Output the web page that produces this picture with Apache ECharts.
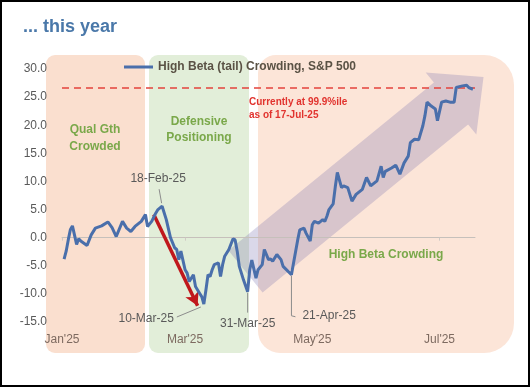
<!DOCTYPE html>
<html>
<head>
<meta charset="utf-8">
<script src="https://cdn.jsdelivr.net/npm/echarts@6/dist/echarts.min.js"></script>
<style>
html,body{margin:0;padding:0;background:#fff;}
#c{width:530px;height:387px;}
</style>
</head>
<body>
<div id="c"></div>
<script>
// ---------------- data ----------------
const dates = [
'2025-01-02','2025-01-03','2025-01-04','2025-01-05','2025-01-06','2025-01-08','2025-01-09','2025-01-10',
'2025-01-13','2025-01-15','2025-01-17','2025-01-20','2025-01-23','2025-01-25','2025-01-27','2025-01-30',
'2025-02-01','2025-02-03','2025-02-05','2025-02-08','2025-02-10','2025-02-11','2025-02-13','2025-02-15',
'2025-02-16','2025-02-18','2025-02-20','2025-02-22','2025-02-24','2025-02-25','2025-02-26','2025-02-27',
'2025-03-01','2025-03-02','2025-03-03','2025-03-05','2025-03-06','2025-03-07','2025-03-09','2025-03-10',
'2025-03-11','2025-03-12','2025-03-13','2025-03-14','2025-03-15','2025-03-17','2025-03-18','2025-03-19',
'2025-03-20','2025-03-22','2025-03-24','2025-03-25','2025-03-26','2025-03-27','2025-03-29','2025-03-31',
'2025-04-01','2025-04-02','2025-04-04','2025-04-05','2025-04-07','2025-04-08','2025-04-10','2025-04-11',
'2025-04-12','2025-04-14','2025-04-16','2025-04-17','2025-04-21','2025-04-22','2025-04-24','2025-04-25',
'2025-04-27','2025-04-28','2025-04-30','2025-05-01','2025-05-02','2025-05-04','2025-05-06','2025-05-07',
'2025-05-08','2025-05-09','2025-05-11','2025-05-12','2025-05-13','2025-05-15','2025-05-16','2025-05-18',
'2025-05-20','2025-05-22','2025-05-25','2025-05-27','2025-05-29','2025-06-01','2025-06-03','2025-06-04',
'2025-06-05','2025-06-08','2025-06-10','2025-06-12','2025-06-14','2025-06-16','2025-06-17','2025-06-19',
'2025-06-21','2025-06-23','2025-06-24','2025-06-25','2025-06-27','2025-06-29','2025-06-30','2025-07-02',
'2025-07-04','2025-07-06','2025-07-08','2025-07-09','2025-07-12','2025-07-14','2025-07-15','2025-07-17'
];
const crowding = [
-3.8,-2.4,-0.4,1.4,2.1,-1.2,-0.2,-0.6,
-1.4,0.5,1.7,2.1,2.8,1.8,0.2,2.9,
1.7,1.1,2.0,2.9,4.1,2.0,2.9,4.4,
5.0,5.6,3.2,0.0,-1.8,-2.1,-3.9,-2.4,
-5.7,-6.3,-7.8,-6.6,-8.7,-9.3,-10.5,-11.8,
-9.3,-6.6,-6.9,-5.7,-4.8,-4.5,-6.9,-4.8,
-3.3,-2.1,-0.2,-0.4,-2.4,-5.1,-7.5,-9.6,
-5.7,-4.0,-7.2,-5.7,-4.8,-2.1,-3.9,-3.8,
-4.2,-3.0,-3.9,-5.1,-6.6,-4.5,-0.4,1.4,
1.7,0.8,-0.6,2.3,2.9,2.6,3.2,2.9,
3.8,5.0,6.0,9.0,11.6,8.9,9.2,8.9,
6.5,7.7,8.6,10.7,9.2,10.1,12.7,10.7,
11.8,12.4,12.9,11.3,13.3,14.5,16.9,17.5,
17.4,19.9,21.7,24.1,23.4,22.9,20.8,24.1,
24.3,24.1,24.1,26.7,27.0,27.1,26.7,26.4
];
const seriesName = 'High Beta (tail) Crowding, S&P 500';
const xTickDates = ['2025-01-01','2025-03-01','2025-05-01','2025-07-01'];
const xTickLabels = ["Jan'25","Mar'25","May'25","Jul'25"];
const xMin = '2025-01-01', xMax = '2025-07-18';
const yMin = -15, yMax = 30, yStep = 5;
const percentileLevel = 26.7;
const redArrowFrom = ['2025-02-14', 4.1];
const redArrowTo = ['2025-03-07', -12.1];
const callouts = [
  {date:'2025-02-18', value:5.6,  text:'18-Feb-25'},
  {date:'2025-03-10', value:-11.8, text:'10-Mar-25'},
  {date:'2025-03-31', value:-9.6, text:'31-Mar-25'},
  {date:'2025-04-21', value:-6.6, text:'21-Apr-25'}
];

// ---------------- helpers ----------------
function ts(s){const p=s.split('-').map(Number);return Date.UTC(p[0],p[1]-1,p[2]);}
const NARROW = "'Liberation Sans Narrow','Arial Narrow','Liberation Sans',Arial,sans-serif";
const SANS = "'Liberation Sans',Arial,sans-serif";
const tickTs = xTickDates.map(ts);

const chart = echarts.init(document.getElementById('c'), null, {renderer:'canvas'});

const option = {
  backgroundColor:'#ffffff',
  animation:false,
  title:{text:'... this year', left:18, top:13,
    textStyle:{color:'#4a78a9', fontSize:18, fontWeight:'bold', fontFamily:SANS}},
  legend:{show:true, left:119, top:56, icon:'rect', itemWidth:29, itemHeight:3,
    data:[seriesName],
    textStyle:{color:'#5a5245', fontSize:12, fontWeight:'bold', fontFamily:NARROW}},
  grid:{left:62, right:55, top:69, bottom:65, containLabel:false},
  xAxis:[{
    type:'value', min:ts(xMin), max:ts(xMax),
    axisLine:{show:false, onZero:false}, axisTick:{show:false}, splitLine:{show:false},
    axisLabel:{show:true, customValues:tickTs, margin:12, showMinLabel:true, showMaxLabel:true,
      color:'#7d6a60', fontSize:12, fontFamily:NARROW,
      formatter:function(v){const i=tickTs.indexOf(v);return i>=0?xTickLabels[i]:'';}}
  },{
    type:'value', min:ts(xMin), max:ts(xMax), position:'bottom',
    axisLine:{show:true, onZero:true, lineStyle:{color:'#c6c0bb', width:1}},
    axisTick:{show:true, customValues:tickTs, length:3, lineStyle:{color:'#d0cac5'}},
    axisLabel:{show:false}, splitLine:{show:false}
  }],
  yAxis:{type:'value', min:yMin, max:yMax, interval:yStep,
    axisLine:{show:false}, axisTick:{show:false}, splitLine:{show:false},
    axisLabel:{margin:15, color:'#595959', fontSize:12, fontFamily:NARROW,
      formatter:function(v){return v.toFixed(1);}}},
  series:[{
    name:seriesName, type:'line', xAxisIndex:0,
    data:dates.map(function(d,i){return [ts(d), crowding[i]];}),
    showSymbol:false, symbol:'none',
    lineStyle:{color:'#4a6fab', width:3},
    itemStyle:{color:'#4a6fab'},
    z:5,
    markLine:{silent:true, symbol:['none','none'], label:{show:false},
      data:[
        {yAxis:percentileLevel, lineStyle:{color:'#e3433c', type:[7,5], width:1.5}},
        [
          {coord:[ts(redArrowFrom[0]), redArrowFrom[1]], symbol:'none', lineStyle:{color:'#c0181c', width:3.5, type:'solid'}},
          {coord:[ts(redArrowTo[0]), redArrowTo[1]], symbol:'arrow', symbolSize:[11,13]}
        ]
      ]}
  }]
};
chart.setOption(option);

// ---------------- decorations ----------------
function px(d,v){return chart.convertToPixel({xAxisIndex:0,yAxisIndex:0},[ts(d),v]);}
const g = [];
g.push({type:'rect', z:-20, silent:true, shape:{x:46,y:55,width:99,height:298,r:9}, style:{fill:'#fadfcf'}});
g.push({type:'rect', z:-20, silent:true, shape:{x:149,y:55,width:100,height:298,r:9}, style:{fill:'#e2eed9'}});
g.push({type:'rect', z:-20, silent:true, shape:{x:258,y:55,width:256,height:298,r:[18,30,30,22]}, style:{fill:'#fce5d8'}});
(function(){
  const T=[245.5,271.5], B=[451,103.5];
  const dx=B[0]-T[0], dy=B[1]-T[1], len=Math.hypot(dx,dy);
  const u=[dx/len,dy/len], n=[-u[1],u[0]];
  const hw=27, HW=40, L=42;
  const pt=(o,a,b)=>[o[0]+a*u[0]+b*n[0], o[1]+a*u[1]+b*n[1]];
  const pts=[pt(T,0,hw),pt(B,0,hw),pt(B,0,HW),pt(B,L,0),pt(B,0,-HW),pt(B,0,-hw),pt(T,0,-hw)];
  g.push({type:'polygon', z:-10, silent:true, shape:{points:pts}, style:{fill:'rgba(120,110,175,0.27)'}});
})();
const greenTxt = {fill:'#7aa84a', font:"bold 12px "+NARROW, align:'center', verticalAlign:'middle'};
g.push({type:'text', z:1, style:Object.assign({x:95,y:138,text:'Qual Gth\nCrowded',lineHeight:17},greenTxt)});
g.push({type:'text', z:1, style:Object.assign({x:199,y:130,text:'Defensive\nPositioning',lineHeight:16},greenTxt)});
g.push({type:'text', z:1, style:Object.assign({x:386,y:255,text:'High Beta Crowding'},greenTxt)});
g.push({type:'text', z:1, style:{x:249,y:109,text:'Currently at 99.9%ile\nas of 17-Jul-25', lineHeight:13,
  fill:'#e1332e', font:"bold 10px "+NARROW, align:'left', verticalAlign:'middle'}});
const lblStyle = {fill:'#595959', font:"12px "+NARROW, verticalAlign:'middle'};
const leader = {stroke:'#8c8c8c', lineWidth:1, fill:null};
(function(){
  let p = px(callouts[0].date, callouts[0].value);
  g.push({type:'polyline', z:1, shape:{points:[[p[0]-3,p[1]-17],[p[0]-0.5,p[1]-3]]}, style:leader});
  g.push({type:'text', z:1, style:Object.assign({x:p[0]-4,y:p[1]-27,text:callouts[0].text,align:'center'},lblStyle)});
  p = px(callouts[1].date, callouts[1].value);
  g.push({type:'polyline', z:1, shape:{points:[[p[0]-27,p[1]+13],[p[0]-3,p[1]+3]]}, style:leader});
  g.push({type:'text', z:1, style:Object.assign({x:p[0]-30,y:p[1]+15,text:callouts[1].text,align:'right'},lblStyle)});
  p = px(callouts[2].date, callouts[2].value);
  g.push({type:'polyline', z:1, shape:{points:[[p[0],p[1]+1],[p[0],p[1]+21]]}, style:leader});
  g.push({type:'text', z:1, style:Object.assign({x:p[0],y:p[1]+32,text:callouts[2].text,align:'center'},lblStyle)});
  p = px(callouts[3].date, callouts[3].value);
  g.push({type:'polyline', z:1, shape:{points:[[p[0],p[1]+1],[p[0],p[1]+41],[p[0]+4,p[1]+42]]}, style:leader});
  g.push({type:'text', z:1, style:Object.assign({x:p[0]+11,y:p[1]+41,text:callouts[3].text,align:'left'},lblStyle)});
})();
g.push({type:'rect', z:50, silent:true, shape:{x:0,y:0,width:530,height:387}, style:{fill:'none', stroke:'#000', lineWidth:4}});
chart.setOption({graphic:{elements:g}});
</script>
</body>
</html>
